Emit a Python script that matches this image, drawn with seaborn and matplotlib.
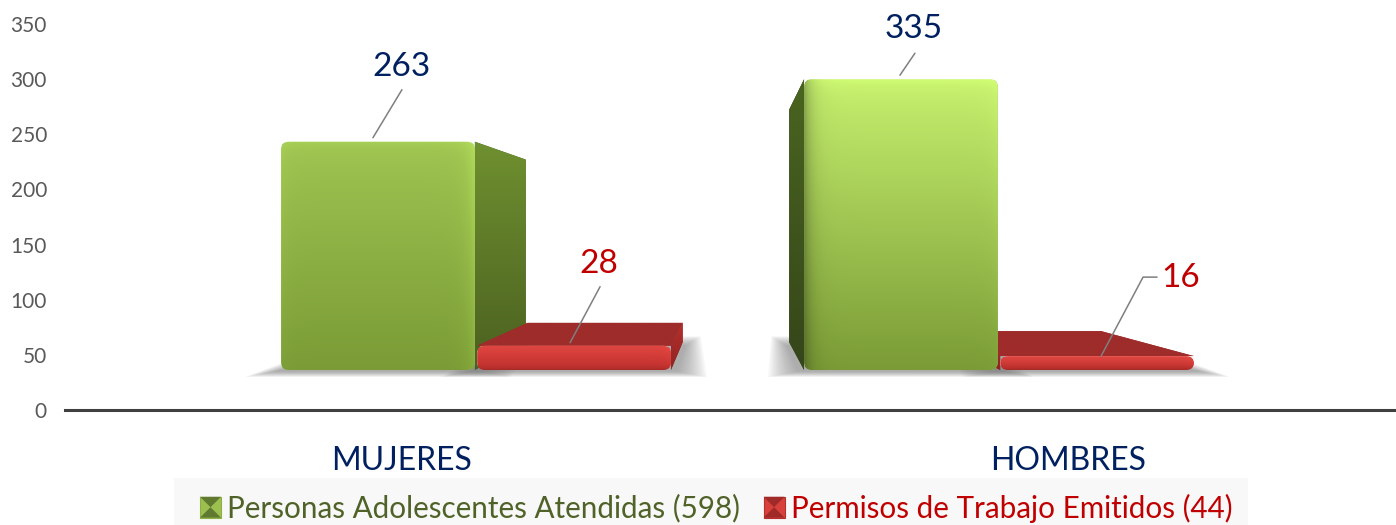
import numpy as np
import pandas as pd
import matplotlib
matplotlib.use("Agg")
import matplotlib.pyplot as plt
from matplotlib.legend_handler import HandlerBase
from matplotlib.patches import FancyBboxPatch, Polygon, Patch, Rectangle
import seaborn as sns

# datos
categorias = ["MUJERES", "HOMBRES"]
atendidas = [263, 335]
permisos = [28, 16]
serie_atendidas = "Personas Adolescentes Atendidas (598)"
serie_permisos = "Permisos de Trabajo Emitidos (44)"
ticks_y = [0, 50, 100, 150, 200, 250, 300, 350]

df = pd.DataFrame({
    "sexo": categorias * 2,
    "valor": atendidas + permisos,
    "serie": [serie_atendidas] * 2 + [serie_permisos] * 2,
})

AZUL = "#002060"
ROJO = "#C00000"
VERDE_TXT = "#4F6228"
GRIS = "#595959"
W, H = 1396, 525

sns.set_theme(style="white")
plt.rcParams["font.family"] = ["Lato", "DejaVu Sans"]

fig = plt.figure(figsize=(W / 100, H / 100), dpi=100)


def caja(x0, x1, y_top, y_bot):
    # rectangulo en pixeles de la imagen -> coordenadas de figura
    return [x0 / W, 1 - y_bot / H, (x1 - x0) / W, (y_bot - y_top) / H]


# fondo de la leyenda
fig.add_artist(Rectangle((174 / W, 0), 1074 / W, 47 / H, transform=fig.transFigure,
                         facecolor="#F8F8F8", edgecolor="none"))

# eje con la escala visible
ax_base = fig.add_axes(caja(65, 1396, 24, 410))
ax_base.set_xlim(-0.506, 1.4925)
ax_base.set_ylim(0, 350)
ax_base.set_yticks(ticks_y)
ax_base.set_xticks([0, 1], categorias)
ax_base.tick_params(axis="y", length=0, pad=13, labelsize=15, labelcolor=GRIS)
ax_base.tick_params(axis="x", length=0, pad=26, labelsize=23, labelcolor=AZUL)
for lado in ["top", "left", "right"]:
    ax_base.spines[lado].set_visible(False)
ax_base.spines["bottom"].set_color("#404040")
ax_base.spines["bottom"].set_linewidth(2.2)
ax_base.grid(False)

# eje de las barras (plano frontal del grafico 3D)
PX_Y = 0.868
ax = fig.add_axes(caja(214.5, 1260.5, 370 - 400 * PX_Y, 370 + 20 * PX_Y))
ax.patch.set_alpha(0)
sns.barplot(data=df, x="sexo", y="valor", hue="serie", order=categorias,
            hue_order=[serie_atendidas, serie_permisos],
            palette=["#8CB043", "#C8322F"], width=0.75, gap=0.012,
            legend=False, ax=ax)
ax.set_xlim(-0.5, 1.5)
ax.set_ylim(-20, 400)
ax.axis("off")

PX_X = 523.0
FUGA = np.array([0.485, 160.0])  # punto de fuga
K = 0.2


def atras(p):
    p = np.array(p, dtype=float)
    return p + K * (FUGA - p)


def hexa(c):
    return np.array(matplotlib.colors.to_rgb(c))


def relleno(verts, c_arriba, c_abajo, z):
    verts = np.array(verts)
    pol = Polygon(verts, closed=True, facecolor=c_abajo, edgecolor="none", zorder=z)
    ax.add_patch(pol)
    t = np.linspace(0, 1, 64)[:, None, None]
    img = hexa(c_arriba) * (1 - t) + hexa(c_abajo) * t
    im = ax.imshow(img, extent=(verts[:, 0].min(), verts[:, 0].max(),
                                verts[:, 1].min(), verts[:, 1].max()),
                   aspect="auto", zorder=z, interpolation="bilinear")
    im.set_clip_path(pol)


def sombra(x0, x1, z):
    # sombra difusa bajo la base, capas apiladas
    n = 16
    for i in range(n):
        f = 1 - i / n
        dx_f = (4 + 32 * f) / PX_X
        dx_b = (2 + 16 * f) / PX_X
        dy_f = (1 + 6 * f) / PX_Y
        dy_b = (-4 + 10 * f) / PX_Y
        a, b = atras((x0, 0)), atras((x1, 0))
        ax.add_patch(Polygon([(x0 - dx_f, -dy_f), (x1 + dx_f, -dy_f),
                              (b[0] + dx_b, b[1] + dy_b), (a[0] - dx_b, a[1] + dy_b)],
                             closed=True, facecolor="#7f7f7f", edgecolor="none",
                             alpha=0.055, zorder=z))


def frente(bar, claro, oscuro, z, bevel, es_verde):
    x0, w, h = bar.get_x(), bar.get_width(), bar.get_height()
    ren = int(h * PX_Y)
    col = int(w * PX_X)
    r = 8 / PX_X
    caja_r = FancyBboxPatch((x0, 0), w, h, boxstyle=f"round,pad=0,rounding_size={r}",
                            mutation_aspect=PX_X / PX_Y, transform=ax.transData)
    filas = np.arange(ren)[:, None]
    cols = np.arange(col)[None, :]
    # las barras mas bajas arrancan de un tono mas oscuro
    t_top = 1 - (h / max(atendidas)) ** 3 if es_verde else 0.0
    t = (t_top + (1 - t_top) * filas / max(ren - 1, 1))[:, :, None]
    img = np.repeat(hexa(claro) * (1 - t) + hexa(oscuro) * t, col, axis=1)
    if es_verde:
        a_la_fuga = x0 + w < FUGA[0]
        der = 0.12 if a_la_fuga else 0.03
        izq = 0.03 if a_la_fuga else -0.30
        luz = 0.05 * np.exp(-filas / bevel) + der * np.exp(-(col - 1 - cols) / bevel) \
            + izq * np.exp(-cols / bevel)
    else:
        luz = 0.04 * np.exp(-(col - 1 - cols) / bevel) - 0.12 * np.exp(-(ren - 1 - filas) / (bevel / 2))
    img = np.clip(img * (1 + luz[:, :, None]), 0, 1)
    im = ax.imshow(img, extent=(x0, x0 + w, 0, h), aspect="auto", zorder=z + 0.5,
                   interpolation="bilinear")
    im.set_clip_path(caja_r)
    bar.set_clip_path(caja_r)
    bar.set_zorder(z + 0.4)


barras = []
for cont, claro, oscuro, lado, tapa, bevel, es_verde in [
    (ax.containers[0], "#C6F06E", "#7A9B36", ("#6F9030", "#4B6120"), "#7A9B36", 8, True),
    (ax.containers[1], "#E04641", "#C0302D", ("#B5302D", "#8E2422"), "#9E2C2A", 5, False),
]:
    for bar in cont:
        barras.append((bar, claro, oscuro, lado, tapa, bevel, es_verde))

for bar, *_ in barras:
    sombra(bar.get_x(), bar.get_x() + bar.get_width(), 1)

# de atras hacia adelante segun la distancia al punto de fuga
barras.sort(key=lambda b: -abs(b[0].get_x() + b[0].get_width() / 2 - FUGA[0]))
for i, (bar, claro, oscuro, lado, tapa, bevel, es_verde) in enumerate(barras):
    z = 2 + i
    x0, x1, h = bar.get_x(), bar.get_x() + bar.get_width(), bar.get_height()
    if h < FUGA[1]:
        relleno([(x0, h), (x1, h), atras((x1, h)), atras((x0, h))], tapa, tapa, z)
    if x1 < FUGA[0]:
        relleno([(x1, h), atras((x1, h)), atras((x1, 0)), (x1, 0)], lado[0], lado[1], z + 0.1)
    if x0 > FUGA[0]:
        oscuros = ("#4A6420", "#35461A") if h > FUGA[1] else lado
        relleno([(x0, h), atras((x0, h)), atras((x0, 0)), (x0, 0)], oscuros[0], oscuros[1], z + 0.1)
    frente(bar, claro, oscuro, z, bevel, es_verde)

ax.set_xlim(-0.5, 1.5)
ax.set_ylim(-20, 400)

# etiquetas con linea guia (desplazamientos en pixeles desde la barra)
etiquetas = [
    (ax.containers[0][0], AZUL, [(-5, 4), (24, 52)], (24, 75)),
    (ax.containers[0][1], AZUL, [(-1, 4), (14, 26)], (13, 50)),
    (ax.containers[1][0], ROJO, [(-4, 3), (26, 59)], (25, 82)),
    (ax.containers[1][1], ROJO, [(4, 0), (46, 79), (60, 79)], (84, 78)),
]
for bar, color, guia, pos in etiquetas:
    xy = (bar.get_x() + bar.get_width() / 2, bar.get_height())
    px = ax.transData.transform(xy)
    pts = [ax.transData.inverted().transform(px + np.array(g)) for g in guia]
    ax.plot(*zip(*pts), color="#7F7F7F", lw=1.1, zorder=30)
    ax.annotate(f"{int(bar.get_height())}", xy=xy, xytext=pos, textcoords="offset pixels",
                ha="center", va="center", fontsize=24, color=color, zorder=31,
                annotation_clip=False)


class Biselado(HandlerBase):
    # cuadrito con caras oscuras, como el marcador de la leyenda original
    def __init__(self, base, cara, borde):
        super().__init__()
        self.base, self.cara, self.borde = base, cara, borde

    def create_artists(self, legend, orig, xd, yd, ancho, alto, fontsize, trans):
        x, y = -xd, -yd
        cx, cy = x + ancho / 2, y + alto / 2
        esquinas = [(x, y), (x + ancho, y), (x + ancho, y + alto), (x, y + alto)]
        fondo = Polygon(esquinas, closed=True, facecolor=self.base, edgecolor=self.borde,
                        lw=0.8, transform=trans)
        abajo = Polygon([esquinas[0], esquinas[1], (cx, cy)], closed=True,
                        facecolor=self.cara, edgecolor="none", transform=trans)
        arriba = Polygon([esquinas[2], esquinas[3], (cx, cy)], closed=True,
                         facecolor=self.cara, edgecolor="none", transform=trans)
        return [fondo, abajo, arriba]


# leyenda
h_verde = Patch(label=serie_atendidas)
h_rojo = Patch(label=serie_permisos)
leg = fig.legend(handles=[h_verde, h_rojo], loc="center left",
                 bbox_to_anchor=(200 / W, 17 / H), ncol=2, frameon=False, fontsize=21.3,
                 handlelength=0.71, handleheight=0.71, handletextpad=0.2, columnspacing=0.8,
                 borderaxespad=0, borderpad=0, labelcolor=[VERDE_TXT, ROJO],
                 handler_map={h_verde: Biselado("#9CBF50", "#5F7A30", "#8CB043"),
                              h_rojo: Biselado("#D8403B", "#A02A28", "#B5302D")})

fig.savefig("out.png", dpi=100)
